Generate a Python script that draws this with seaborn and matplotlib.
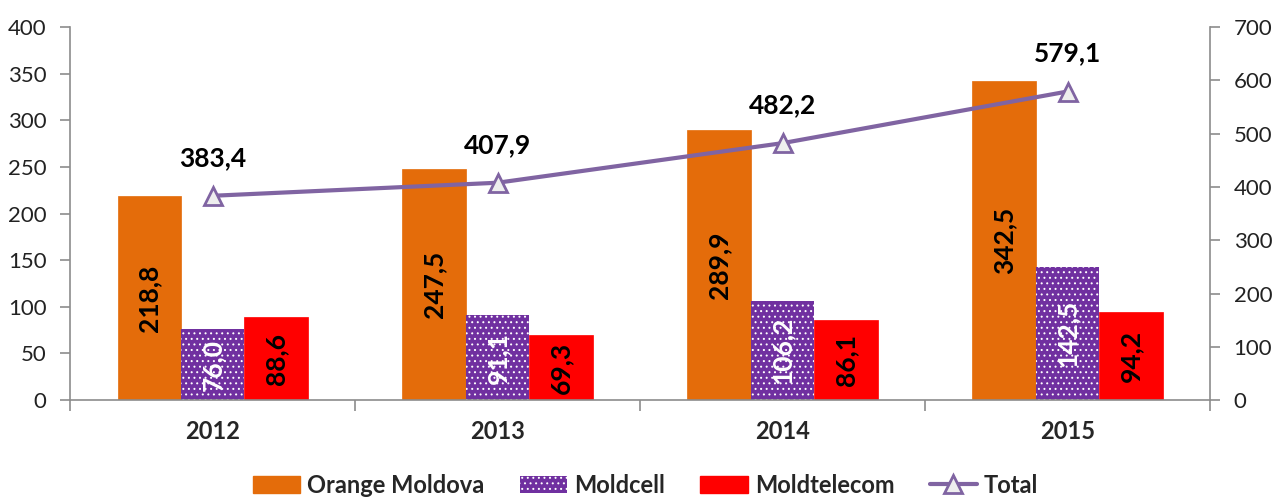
import pandas as pd
import seaborn as sns
import matplotlib.pyplot as plt
from matplotlib.lines import Line2D
from matplotlib.patches import Patch

years = ['2012', '2013', '2014', '2015']
operators = ['Orange Moldova', 'Moldcell', 'Moldtelecom']
orange_moldova = [218.8, 247.5, 289.9, 342.5]
moldcell = [76.0, 91.1, 106.2, 142.5]
moldtelecom = [88.6, 69.3, 86.1, 94.2]
total = [383.4, 407.9, 482.2, 579.1]

colors = {'Orange Moldova': '#E46C0A', 'Moldcell': '#7030A0', 'Moldtelecom': '#FF0000'}
label_colors = {'Orange Moldova': 'black', 'Moldcell': 'white', 'Moldtelecom': 'black'}
line_color = '#8064A2'
axis_color = '#8C8C8C'


def fmt(v):
    return f'{v:.1f}'.replace('.', ',')


df = pd.DataFrame({
    'year': years * 3,
    'operator': [o for o in operators for _ in years],
    'value': orange_moldova + moldcell + moldtelecom,
})

sns.set_style('white')
plt.rcParams['font.family'] = ['Lato', 'DejaVu Sans']
plt.rcParams['hatch.color'] = 'white'
plt.rcParams['hatch.linewidth'] = 0.7

fig = plt.figure(figsize=(12.76, 4.97), dpi=100)
ax = fig.add_axes([0.0549, 0.195, 0.8934, 0.7505])

sns.barplot(data=df, x='year', y='value', hue='operator', hue_order=operators,
            palette=colors, width=0.667, gap=0, saturation=1, legend=False, ax=ax)

for cont, op in zip(ax.containers, operators):
    for bar in cont:
        if op == 'Moldcell':
            bar.set_edgecolor('white')
            bar.set_hatch('...')
            bar.set_linewidth(0)
        else:
            bar.set_edgecolor(colors[op])
            bar.set_linewidth(0.5)
    vals = [b.get_height() for b in cont]
    ax.bar_label(cont, labels=[fmt(v) for v in vals], label_type='center', rotation=90,
                 fontsize=19, fontweight='bold', color=label_colors[op])

ax.set_ylim(0, 400)
ax.set_yticks(range(0, 401, 50))
ax.set_xlim(-0.5, 3.5)
ax.set_xlabel('')
ax.set_ylabel('')

ax2 = ax.twinx()
tot_df = pd.DataFrame({'year': years, 'total': total})
sns.pointplot(data=tot_df, x='year', y='total', color=line_color, markers='^',
              linewidth=3.0, markersize=13, markerfacecolor='#EEEEEE',
              markeredgecolor=line_color, markeredgewidth=2, ax=ax2)
for i, v in enumerate(total):
    ax2.annotate(fmt(v), (i, v), xytext=(0, 38), textcoords='offset pixels',
                 ha='center', va='center', fontsize=19, fontweight='bold', color='black')
ax2.set_ylim(0, 700)
ax2.set_yticks(range(0, 701, 100))
ax2.set_xlim(-0.5, 3.5)
ax2.set_ylabel('')
ax2.set_xlabel('')

for a in (ax, ax2):
    a.spines['top'].set_visible(False)
    for s in ('left', 'right', 'bottom'):
        a.spines[s].set_color(axis_color)
        a.spines[s].set_linewidth(1.2)
ax.spines['right'].set_visible(False)
ax2.spines['left'].set_visible(False)
ax2.spines['bottom'].set_visible(False)

ax.tick_params(axis='y', direction='out', length=7, width=1.2, color=axis_color,
               labelsize=16, labelcolor='#222222', left=True, pad=10)
ax2.tick_params(axis='y', direction='out', length=7, width=1.2, color=axis_color,
                labelsize=16, labelcolor='#222222', right=True, pad=10)

ax.set_xticks(range(len(years)))
ax.set_xticklabels(years, fontsize=17, fontweight='bold')
ax.tick_params(axis='x', which='major', length=0, pad=14)
ax.set_xticks([-0.5, 0.5, 1.5, 2.5, 3.5], minor=True)
ax.tick_params(axis='x', which='minor', direction='out', length=8, width=1.2, color=axis_color, bottom=True)

handles = [Patch(facecolor=colors['Orange Moldova'], edgecolor=colors['Orange Moldova']),
           Patch(facecolor=colors['Moldcell'], edgecolor='white', hatch='...', linewidth=0),
           Patch(facecolor=colors['Moldtelecom'], edgecolor=colors['Moldtelecom']),
           Line2D([], [], color=line_color, linewidth=3.0, marker='^', markersize=13,
                  markerfacecolor='#EEEEEE', markeredgecolor=line_color, markeredgewidth=2)]
fig.legend(handles, operators + ['Total'], loc='center', bbox_to_anchor=(0.506, 0.024),
           ncol=4, frameon=False, prop={'size': 17, 'weight': 'bold'},
           handlelength=2.0, handleheight=0.75, columnspacing=1.5, handletextpad=0.3)

fig.savefig('out.png', dpi=100)
